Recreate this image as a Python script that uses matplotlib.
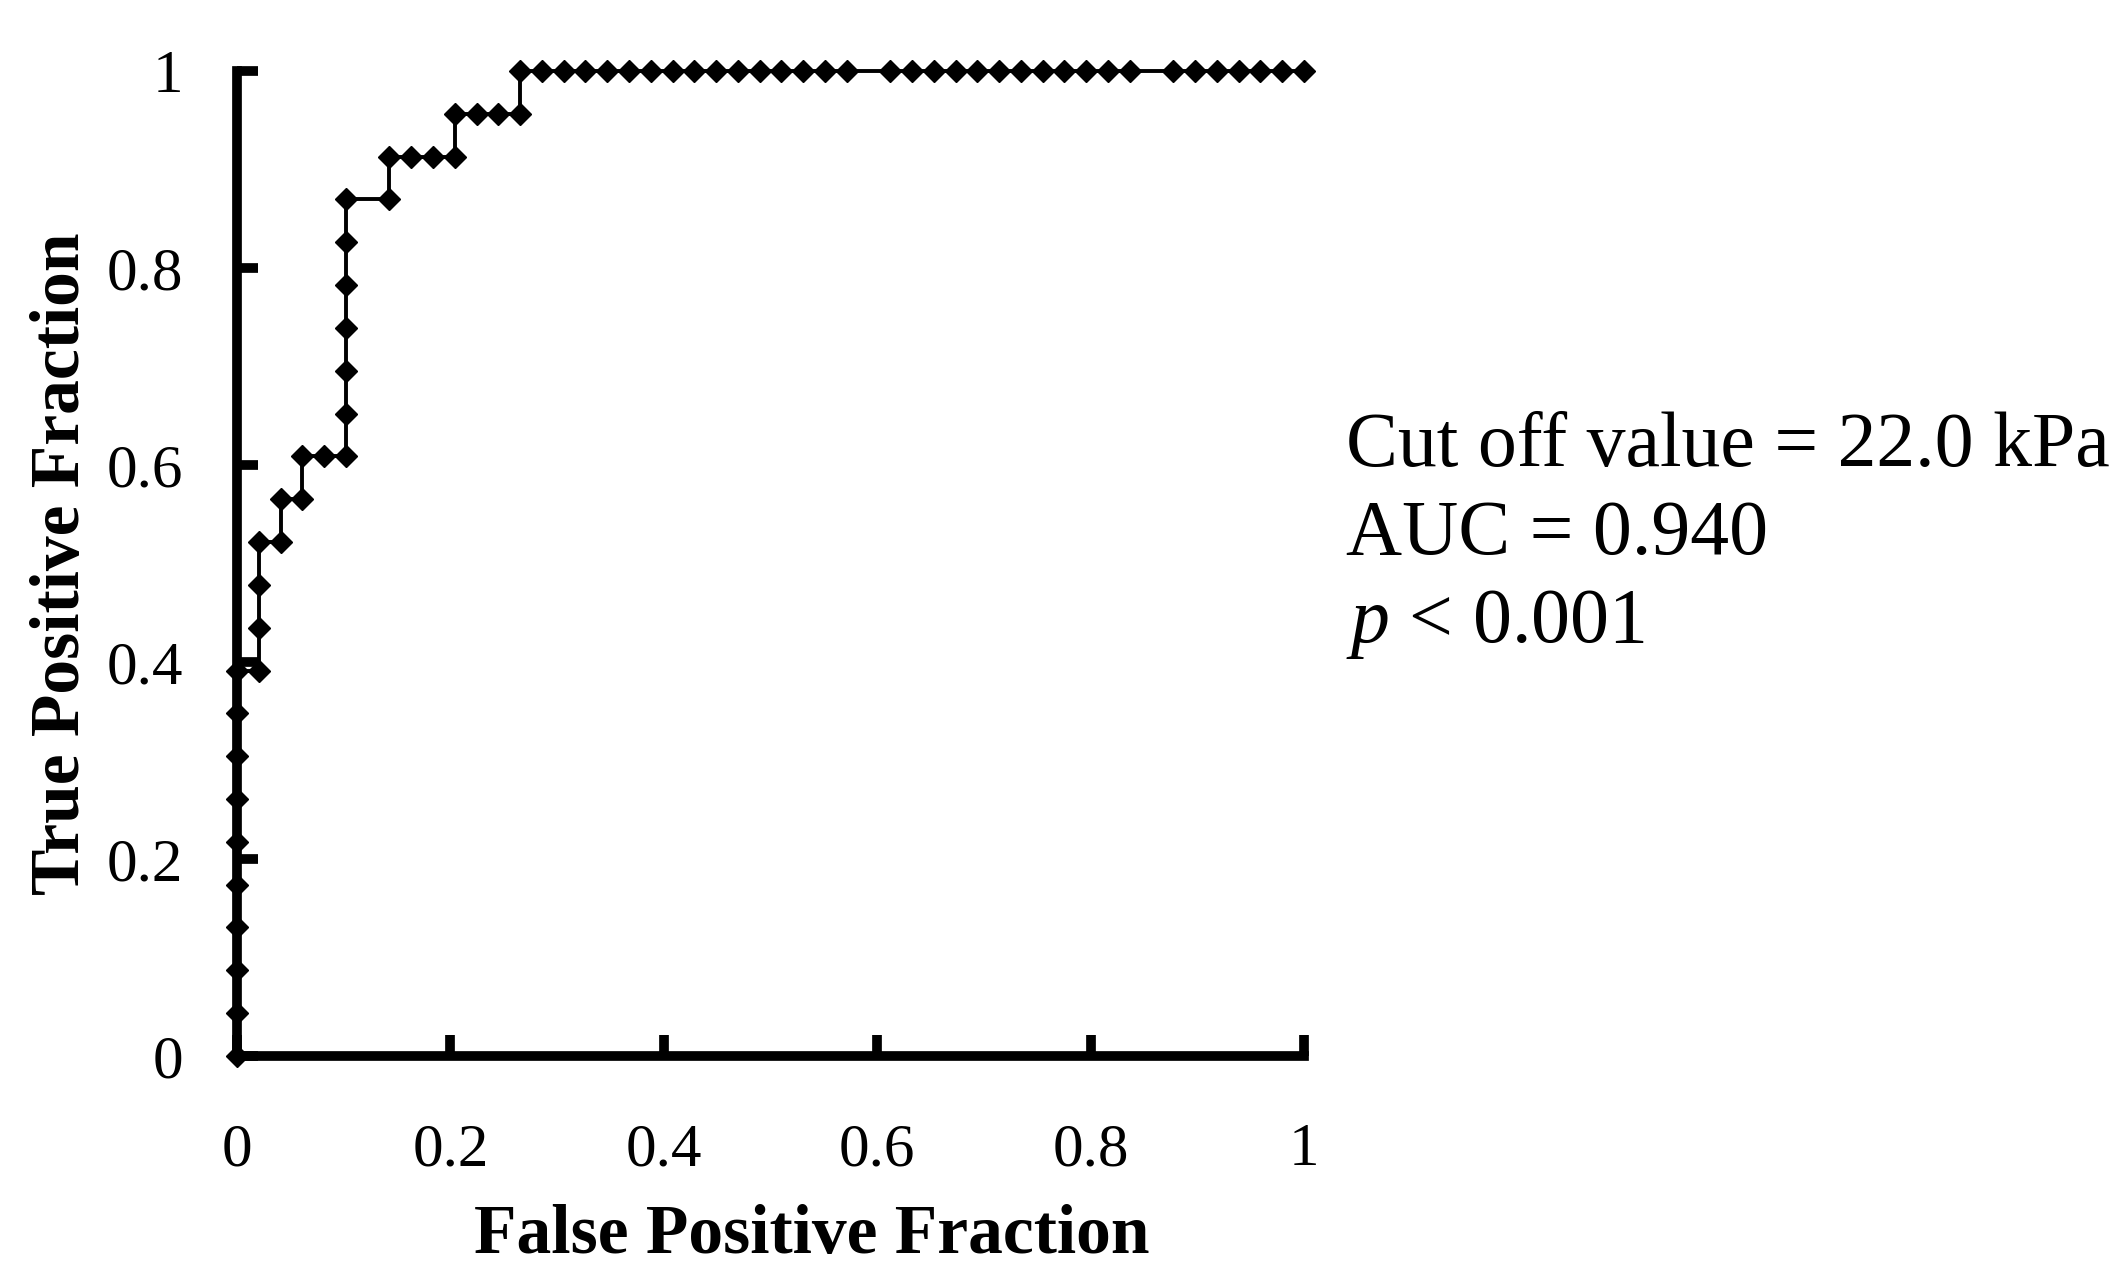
import matplotlib
matplotlib.use('Agg')
import matplotlib.pyplot as plt

# ROC points, as counts of false / true positives
n_neg = 49
n_pos = 23
fp_counts = [0, 0, 0, 0, 0, 0, 0, 0, 0, 0,
             1, 1, 1, 1, 2, 2, 3, 3, 4, 5,
             5, 5, 5, 5, 5, 5, 7, 7, 8, 9, 10,
             10, 11, 12, 13,
             13, 14, 15, 16, 17, 18, 19, 20, 21, 22, 23, 24, 25, 26, 27, 28,
             30, 31, 32, 33, 34, 35, 36, 37, 38, 39, 40, 41,
             43, 44, 45, 46, 47, 48, 49]
tp_counts = [0, 1, 2, 3, 4, 5, 6, 7, 8, 9,
             9, 10, 11, 12, 12, 13, 13, 14, 14, 14,
             15, 16, 17, 18, 19, 20, 20, 21, 21, 21, 21,
             22, 22, 22, 22,
             23, 23, 23, 23, 23, 23, 23, 23, 23, 23, 23, 23, 23, 23, 23, 23,
             23, 23, 23, 23, 23, 23, 23, 23, 23, 23, 23, 23,
             23, 23, 23, 23, 23, 23, 23]

fpr = [c / n_neg for c in fp_counts]
tpr = [c / n_pos for c in tp_counts]

ticks = [0, 0.2, 0.4, 0.6, 0.8, 1]
tick_labels = ['0', '0.2', '0.4', '0.6', '0.8', '1']
notes = ['Cut off value = 22.0 kPa', 'AUC = 0.940', '$p$ < 0.001']

plt.rcParams['font.family'] = 'Liberation Serif'
plt.rcParams['mathtext.fontset'] = 'custom'
plt.rcParams['mathtext.rm'] = 'Liberation Serif'
plt.rcParams['mathtext.it'] = 'Liberation Serif:italic'

fig = plt.figure(figsize=(21.2, 12.79), dpi=100)
ax = fig.add_axes([0.1118, 0.1744, 0.5033, 0.7701])

ax.plot(fpr, tpr, color='black', lw=2.8, marker='D', ms=11, mew=1,
        clip_on=False, zorder=3)

ax.set_xlim(0, 1)
ax.set_ylim(0, 1)
for side in ['top', 'right']:
    ax.spines[side].set_visible(False)
for side in ['left', 'bottom']:
    ax.spines[side].set_linewidth(7)

ax.set_xticks(ticks)
ax.set_xticklabels(tick_labels)
ax.set_yticks(ticks)
ax.set_yticklabels(tick_labels)
ax.tick_params(direction='in', length=15, width=7, labelsize=44)
ax.tick_params(axis='x', pad=48)
ax.tick_params(axis='y', pad=39)

ax.set_xlabel('False Positive Fraction', fontsize=50, fontweight='bold',
              va='baseline')
ax.xaxis.set_label_coords(0.539, -0.2)
ax.set_ylabel('True Positive Fraction', fontsize=50, fontweight='bold',
              va='baseline')
ax.yaxis.set_label_coords(-0.148, 0.5)

# stats text at the right of the plot
line_y = [0.6357, 0.5668, 0.498]
for txt, y in zip(notes, line_y):
    fig.text(0.635, y, txt, fontsize=56, va='baseline')

plt.savefig('out.png', dpi=100)
